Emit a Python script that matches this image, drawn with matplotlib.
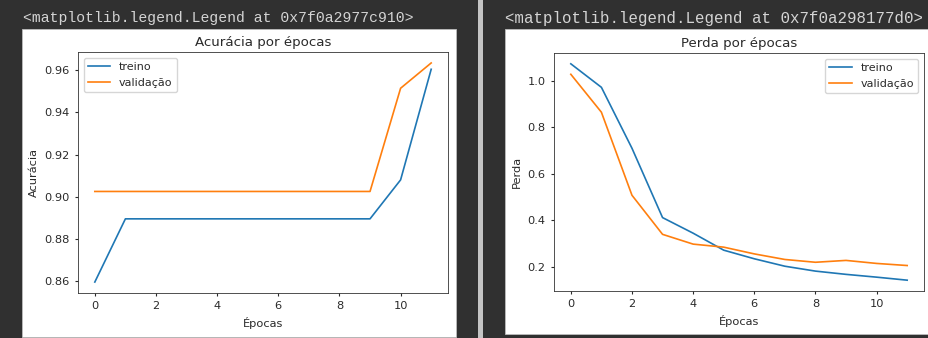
import matplotlib.pyplot as plt
from matplotlib.patches import Rectangle

# dados
epocas = list(range(12))
acc_treino = [0.8595, 0.8895, 0.8895, 0.8895, 0.8895, 0.8895, 0.8895, 0.8895, 0.8895, 0.8895, 0.908, 0.9605]
acc_validacao = [0.9025, 0.9025, 0.9025, 0.9025, 0.9025, 0.9025, 0.9025, 0.9025, 0.9025, 0.9025, 0.9515, 0.9635]
loss_treino = [1.073, 0.972, 0.71, 0.412, 0.345, 0.272, 0.235, 0.203, 0.182, 0.168, 0.156, 0.143]
loss_validacao = [1.028, 0.865, 0.508, 0.34, 0.298, 0.285, 0.256, 0.232, 0.22, 0.228, 0.215, 0.206]
header_esq = '<matplotlib.legend.Legend at 0x7f0a2977c910>'
header_dir = '<matplotlib.legend.Legend at 0x7f0a298177d0>'

W, H = 929, 338
plt.rcParams['font.size'] = 8.2
plt.rcParams['legend.fontsize'] = 8.0
plt.rcParams['text.color'] = '#2a2a2a'
plt.rcParams['axes.labelcolor'] = '#2a2a2a'
plt.rcParams['xtick.color'] = '#2a2a2a'
plt.rcParams['ytick.color'] = '#2a2a2a'
plt.rcParams['xtick.major.size'] = 2.5
plt.rcParams['ytick.major.size'] = 2.5
plt.rcParams['axes.linewidth'] = 0.6
plt.rcParams['axes.edgecolor'] = '#333333'
plt.rcParams['lines.linewidth'] = 1.2

fig = plt.figure(figsize=(W / 100, H / 100), dpi=100, facecolor='#303030')


def px(x0, y0, x1, y1):
    # caixa em pixels (origem em cima) -> fração da figura
    return [x0 / W, (H - y1) / H, (x1 - x0) / W, (y1 - y0) / H]


# fundo das células do notebook
for x0, y0, x1, y1 in [(22, 29, 456, 337), (505, 29, 929, 334)]:
    r = px(x0, y0, x1, y1)
    fig.patches.append(Rectangle((r[0], r[1]), r[2], r[3], transform=fig.transFigure,
                                 facecolor='white', edgecolor='#bdbdbd', lw=0.6, zorder=-5))
r = px(478, 0, 483, H)
fig.patches.append(Rectangle((r[0], r[1]), r[2], r[3], transform=fig.transFigure,
                             facecolor='#c4c4c4', edgecolor='none', zorder=-5))

fig.text(23 / W, 1 - 18 / H, header_esq, family='Liberation Mono', fontsize=10.6,
         color='#d4d4d4', va='center')
fig.text(505 / W, 1 - 18 / H, header_dir, family='Liberation Mono', fontsize=11.3,
         color='#d4d4d4', va='center')

ax1 = fig.add_axes(px(78, 52, 448, 293))
ax1.plot(epocas, acc_treino, label='treino')
ax1.plot(epocas, acc_validacao, label='validação')
ax1.set_title('Acurácia por épocas', fontsize=9.6, pad=4)
ax1.set_xlabel('Épocas')
ax1.set_ylabel('Acurácia')
ax1.legend(loc='upper left')

ax2 = fig.add_axes(px(554, 53, 924, 291))
ax2.plot(epocas, loss_treino, label='treino')
ax2.plot(epocas, loss_validacao, label='validação')
ax2.set_title('Perda por épocas', fontsize=9.6, pad=4)
ax2.set_xlabel('Épocas')
ax2.set_ylabel('Perda')
ax2.legend(loc='upper right')

fig.savefig('out.png', dpi=100, facecolor=fig.get_facecolor())
